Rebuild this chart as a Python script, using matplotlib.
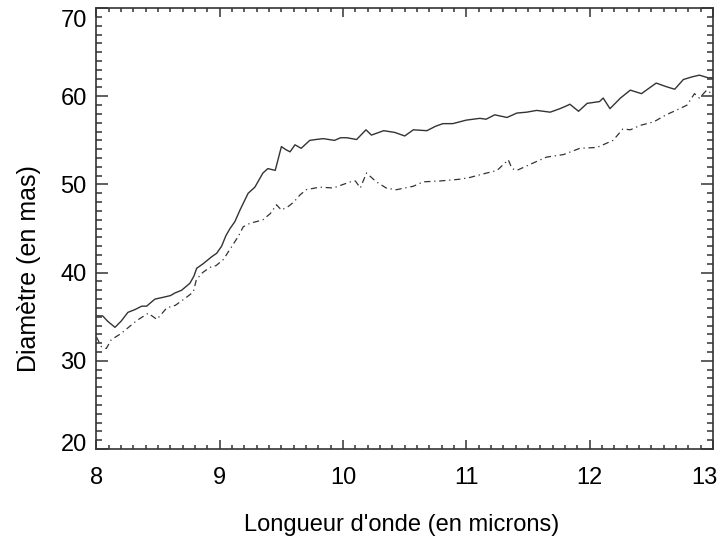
import numpy as np
import matplotlib
matplotlib.use("Agg")
import matplotlib.pyplot as plt
import matplotlib.transforms as mtransforms
from matplotlib.ticker import MultipleLocator

# wavelength (microns) and diameter (mas)
wl_solid = [8.00, 8.05, 8.09, 8.15, 8.20, 8.255, 8.31, 8.367, 8.407, 8.44,
            8.474, 8.539, 8.60, 8.637, 8.69, 8.758, 8.79, 8.813, 8.864, 8.934,
            8.975, 9.015, 9.05, 9.083, 9.123, 9.164, 9.23, 9.285, 9.35, 9.39,
            9.45, 9.50, 9.53, 9.57, 9.61, 9.66, 9.73, 9.78, 9.84, 9.93,
            9.98, 10.03, 10.11, 10.186, 10.23, 10.33, 10.42, 10.50, 10.57, 10.68,
            10.75, 10.81, 10.89, 11.00, 11.11, 11.16, 11.23, 11.33, 11.41, 11.49,
            11.57, 11.68, 11.76, 11.81, 11.84, 11.91, 11.98, 12.08, 12.11, 12.165,
            12.25, 12.33, 12.42, 12.54, 12.62, 12.69, 12.76, 12.83, 12.89, 12.96,
            13.00]
diam_solid = [35.1, 35.1, 34.5, 33.8, 34.5, 35.5, 35.8, 36.2, 36.2, 36.6,
              37.0, 37.2, 37.4, 37.7, 38.0, 38.8, 39.6, 40.5, 41.0, 41.8,
              42.2, 43.0, 44.2, 45.0, 45.8, 47.1, 49.0, 49.7, 51.3, 51.8,
              51.6, 54.3, 54.0, 53.7, 54.5, 54.1, 55.0, 55.1, 55.2, 55.0,
              55.3, 55.3, 55.1, 56.2, 55.6, 56.1, 55.9, 55.5, 56.2, 56.1,
              56.6, 56.9, 56.9, 57.3, 57.5, 57.4, 57.9, 57.6, 58.1, 58.2,
              58.4, 58.2, 58.6, 58.9, 59.1, 58.3, 59.2, 59.4, 59.8, 58.6,
              59.8, 60.7, 60.3, 61.5, 61.1, 60.8, 61.9, 62.2, 62.4, 62.1,
              62.1]

wl_dash = [8.00, 8.04, 8.08, 8.12, 8.20, 8.26, 8.33, 8.42, 8.49, 8.57,
           8.64, 8.72, 8.785, 8.81, 8.86, 8.92, 8.97, 9.03, 9.08, 9.15,
           9.19, 9.245, 9.30, 9.35, 9.41, 9.46, 9.50, 9.555, 9.60, 9.65,
           9.70, 9.81, 9.92, 10.00, 10.06, 10.10, 10.14, 10.19, 10.27, 10.35,
           10.43, 10.50, 10.57, 10.65, 10.79, 10.95, 11.03, 11.11, 11.25, 11.34,
           11.37, 11.41, 11.52, 11.65, 11.79, 11.92, 12.06, 12.19, 12.27, 12.33,
           12.41, 12.52, 12.62, 12.70, 12.79, 12.85, 12.89, 12.95, 13.00]
diam_dash = [32.7, 31.6, 31.4, 32.4, 33.1, 33.8, 34.6, 35.4, 34.7, 36.0,
             36.3, 37.1, 37.8, 39.2, 40.0, 40.6, 40.8, 41.5, 42.6, 44.1,
             45.2, 45.6, 45.8, 46.0, 46.7, 47.7, 47.1, 47.5, 48.0, 48.8,
             49.4, 49.7, 49.6, 50.0, 50.3, 50.4, 49.6, 51.3, 50.3, 49.6,
             49.4, 49.6, 49.8, 50.3, 50.4, 50.6, 50.8, 51.1, 51.6, 52.8,
             51.8, 51.6, 52.3, 53.1, 53.4, 54.1, 54.2, 55.0, 56.3, 56.2,
             56.7, 57.1, 57.9, 58.4, 59.0, 60.3, 59.8, 60.7, 60.2]

x_ticks = [8, 9, 10, 11, 12, 13]
y_ticks = [20, 30, 40, 50, 60, 70]


def nudge(label, fig, dx_px, dy_px):
    off = mtransforms.ScaledTranslation(dx_px / fig.dpi, dy_px / fig.dpi,
                                        fig.dpi_scale_trans)
    label.set_transform(label.get_transform() + off)


def main():
    plt.rcParams['font.family'] = ['Liberation Sans', 'DejaVu Sans']
    fig = plt.figure(figsize=(7.21, 5.41), dpi=100)
    ax = fig.add_axes([0.1338, 0.170, 0.855, 0.815])

    ax.plot(wl_solid, diam_solid, color='#333333', linewidth=1.0, linestyle='-')
    ax.plot(wl_dash, diam_dash, color='#333333', linewidth=0.9,
            linestyle=(0, (5, 3, 1, 3)))

    ax.set_xlim(8, 13)
    ax.set_ylim(20, 70)
    ax.set_xticks(x_ticks)
    ax.set_yticks(y_ticks)
    ax.xaxis.set_minor_locator(MultipleLocator(0.1))
    ax.yaxis.set_minor_locator(MultipleLocator(1))

    for s in ax.spines.values():
        s.set_linewidth(1.2)
        s.set_color('#333333')

    ax.tick_params(axis='both', which='both', direction='in', top=True, right=True,
                   color='#333333', width=1.1)
    ax.tick_params(axis='x', which='major', length=6.5, pad=13, labelsize=17)
    ax.tick_params(axis='x', which='minor', length=3)
    ax.tick_params(axis='y', which='major', length=8.5, pad=7, labelsize=17)
    ax.tick_params(axis='y', which='minor', length=4.5)

    # end labels sit slightly inside, as in the original
    xlabels = ax.get_xticklabels()
    nudge(xlabels[-1], fig, -9, 0)
    ylabels = ax.get_yticklabels()
    nudge(ylabels[0], fig, 0, 7)
    nudge(ylabels[-1], fig, 0, -10)

    ax.set_xlabel("Longueur d'onde (en microns)", fontsize=17)
    ax.xaxis.set_label_coords(0.495, -0.148)
    ax.set_ylabel("Diamètre (en mas)", fontsize=18)
    ax.yaxis.set_label_coords(-0.09, 0.41)

    fig.savefig("out.png", dpi=100)
    plt.close(fig)


if __name__ == '__main__':
    main()
